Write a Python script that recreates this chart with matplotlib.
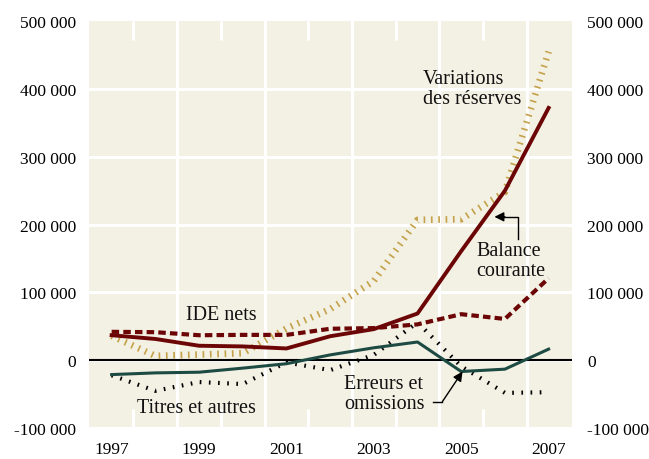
import matplotlib
matplotlib.use("Agg")
import matplotlib.pyplot as plt
import numpy as np

# Balance des paiements (en millions de dollars)
years = [1997, 1998, 1999, 2000, 2001, 2002, 2003, 2004, 2005, 2006, 2007]
balance_courante = [37000, 31500, 21500, 20500, 17500, 35500, 46000, 69000,
                    161000, 250000, 372000]
ide_nets = [42000, 41500, 37000, 37500, 37500, 46500, 47500, 53000,
            68000, 61000, 121000]
variations_reserves = [36000, 6500, 8500, 10500, 47000, 75500, 117000,
                       207000, 208000, 248000, 455000]
titres_autres = [-22000, -45000, -32000, -35000, -3000, -14500, 8000,
                 56000, -9000, -48000, -47000]
erreurs_omissions = [-21000, -18500, -17500, -11500, -5000, 8000, 18500,
                     27000, -16500, -13000, 16500]

y_ticks = [-100000, 0, 100000, 200000, 300000, 400000, 500000]
x_ticks = [1997, 1999, 2001, 2003, 2005, 2007]

bg = '#f3f1e3'
red = '#6c0606'
gold = '#c4a14a'
green = '#1d4b43'
font = ['Liberation Serif', 'DejaVu Serif']

plt.rcParams['font.family'] = font

fig = plt.figure(figsize=(6.49, 4.60), dpi=100)
ax = fig.add_axes([0.137, 0.067, 0.744, 0.885])
ax.set_facecolor(bg)
ax.set_xlim(1996.48, 2007.53)
ax.set_ylim(-100000, 500000)

for s in ax.spines.values():
    s.set_visible(False)

# grille blanche
for v in y_ticks[1:-1]:
    ax.axhline(v, color='white', lw=2.2, zorder=1)
ax.axhline(-100000, color='white', lw=2.2, zorder=1)
for x in [1998.5, 2000.5, 2002.5, 2004.5, 2006.5]:
    ax.axvline(x, color='white', lw=2.2, zorder=1)
ax.axhline(0, color='black', lw=1.5, zorder=2)

ax.plot(years, variations_reserves, color=gold, lw=4.8,
        linestyle=(0, (0.25, 0.85)), dash_capstyle='butt', zorder=3)
ax.plot(years, titres_autres, color='black', lw=3.0,
        linestyle=(0, (0.4, 1.8)), dash_capstyle='butt', zorder=3)
ax.plot(years, ide_nets, color=red, lw=3.0,
        linestyle=(0, (1.8, 1.0)), dash_capstyle='butt', zorder=4)
ax.plot(years, erreurs_omissions, color=green, lw=2.2, zorder=4)
ax.plot(years, balance_courante, color=red, lw=2.8, zorder=5)

# ticks
ax.set_xticks(x_ticks)
ax.set_xticks([1997.5, 1999.5, 2001.5, 2003.5, 2005.5], minor=True)
ax.tick_params(axis='x', which='major', length=0, pad=9, labelsize=12.5)
ax.tick_params(axis='x', which='minor', direction='in', length=14,
               width=2.2, color='white', top=True, bottom=True)
ax.set_yticks(y_ticks)
ax.set_yticklabels([f"{v:,}".replace(",", " ") for v in y_ticks])
ax.tick_params(axis='y', length=0, pad=9, labelsize=12.5)

ax2 = ax.twinx()
ax2.set_ylim(ax.get_ylim())
ax2.set_yticks(y_ticks)
ax2.set_yticklabels([f"{v:,}".replace(",", " ") for v in y_ticks])
ax2.tick_params(axis='y', length=0, pad=11, labelsize=12.5)
for s in ax2.spines.values():
    s.set_visible(False)

# étiquettes
tkw = dict(fontsize=14.5, color='#111111', linespacing=1.05, zorder=6)
ax.text(2004.13, 401000, "Variations\ndes réserves", ha='left', va='center', **tkw)
ax.text(2005.35, 147000, "Balance\ncourante", ha='left', va='center', **tkw)
ax.text(1999.5, 67000, "IDE nets", ha='center', va='center', **tkw)
ax.text(1998.94, -69500, "Titres et autres", ha='center', va='center', **tkw)
ax.text(2002.32, -49000, "Erreurs et\nomissions", ha='left', va='center', **tkw)

# flèches
ax.plot([2006.31, 2006.31, 2005.95], [179000, 211500, 211500],
        color='black', lw=1, zorder=6)
ax.annotate("", xy=(2005.76, 211500), xytext=(2006.0, 211500),
            arrowprops=dict(arrowstyle='-|>', color='black', lw=1,
                            mutation_scale=14, shrinkA=0, shrinkB=0),
            zorder=6)
ax.plot([2004.36, 2004.57], [-60800, -60800], color='black', lw=1, zorder=6)
ax.annotate("", xy=(2005.03, -16500), xytext=(2004.57, -60800),
            arrowprops=dict(arrowstyle='-|>', color='black', lw=1,
                            mutation_scale=14, shrinkA=0, shrinkB=0),
            zorder=6)

plt.savefig('out.png', dpi=100)
